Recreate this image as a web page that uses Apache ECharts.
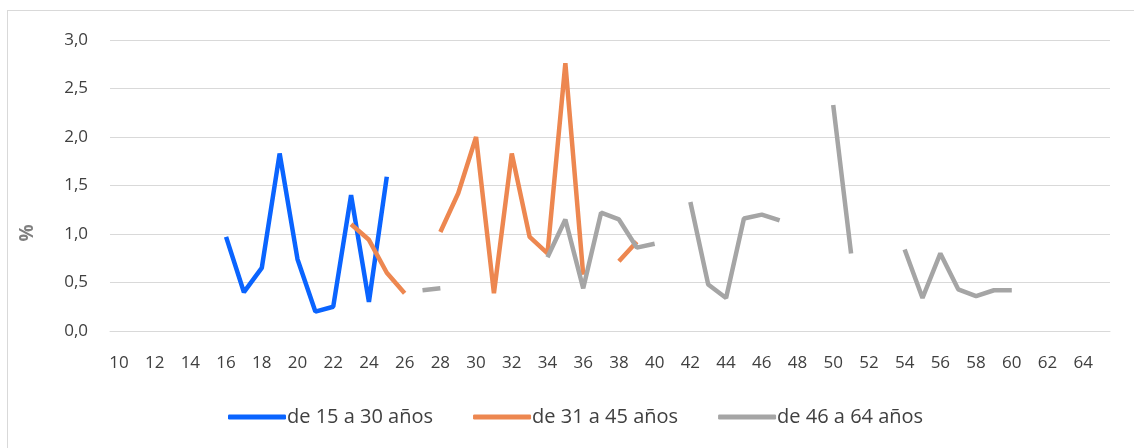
<!DOCTYPE html>
<html>
<head>
<meta charset="utf-8">
<script src="https://cdn.jsdelivr.net/npm/echarts@6/dist/echarts.min.js"></script>
<style>
  html, body { margin: 0; padding: 0; background: #fff; }
  #frame { position: absolute; left: 7px; top: 10px; width: 1140px; height: 450px; border: 1px solid #d9d9d9; box-sizing: border-box; }
  #chart { position: absolute; left: 0; top: 0; width: 1134px; height: 448px; }
</style>
</head>
<body>
<div id="frame"></div>
<div id="chart"></div>
<script>
// edades 10..65
const ages = [];
for (let a = 10; a <= 65; a++) ages.push(String(a));

const seriesNames = ['de 15 a 30 años', 'de 31 a 45 años', 'de 46 a 64 años'];

// valores por edad (null = sin dato)
const joven = {
  16: 0.97, 17: 0.40, 18: 0.65, 19: 1.83, 20: 0.74, 21: 0.20,
  22: 0.25, 23: 1.40, 24: 0.30, 25: 1.59
};
const medio = {
  23: 1.10, 24: 0.94, 25: 0.60, 26: 0.39, 28: 1.02, 29: 1.42,
  30: 2.00, 31: 0.39, 32: 1.83, 33: 0.97, 34: 0.80, 35: 2.76,
  36: 0.58, 38: 0.72, 39: 0.92
};
const mayor = {
  27: 0.42, 28: 0.44, 34: 0.76, 35: 1.15, 36: 0.44, 37: 1.22,
  38: 1.15, 39: 0.86, 40: 0.90, 42: 1.33, 43: 0.48, 44: 0.34,
  45: 1.16, 46: 1.20, 47: 1.14, 50: 2.33, 51: 0.80, 54: 0.84,
  55: 0.34, 56: 0.80, 57: 0.43, 58: 0.36, 59: 0.42, 60: 0.42
};

const colors = ['#0a64ff', '#ed8750', '#a5a5a5'];
const font = 'Open Sans';

function toSeries(obj) {
  return ages.map(a => (obj[a] !== undefined ? obj[a] : '-'));
}

const chart = echarts.init(document.getElementById('chart'));

const option = {
  animation: false,
  color: colors,
  textStyle: { fontFamily: font },
  grid: { left: 110, right: 24, top: 40, bottom: 117 },
  legend: {
    left: 223,
    top: 402,
    icon: 'roundRect',
    itemWidth: 58,
    itemHeight: 5,
    itemGap: 40,
    textStyle: { fontSize: 20, color: '#404040', fontFamily: font, padding: [0, 0, 0, -4] },
    data: seriesNames
  },
  graphic: [{
    type: 'text',
    x: 28,
    y: 233,
    rotation: Math.PI / 2,
    style: {
      text: '%',
      fill: '#7f7f7f',
      font: 'bold 19px ' + font,
      align: 'center',
      verticalAlign: 'middle'
    }
  }],
  xAxis: {
    type: 'category',
    data: ages,
    boundaryGap: true,
    axisLine: { lineStyle: { color: '#d9d9d9', width: 1 } },
    axisTick: { show: false },
    axisLabel: { interval: 1, color: '#404040', fontSize: 17, margin: 24 }
  },
  yAxis: {
    type: 'value',
    min: 0,
    max: 3,
    interval: 0.5,
    axisLine: { show: false },
    axisTick: { show: false },
    splitLine: { lineStyle: { color: '#d9d9d9', width: 1 } },
    axisLabel: {
      color: '#404040',
      fontSize: 17,
      margin: 22,
      formatter: v => v.toFixed(1).replace('.', ',')
    }
  },
  series: [
    { name: seriesNames[0], type: 'line', data: toSeries(joven), showSymbol: false, connectNulls: false, lineStyle: { width: 4.5 } },
    { name: seriesNames[1], type: 'line', data: toSeries(medio), showSymbol: false, connectNulls: false, lineStyle: { width: 4.5 } },
    { name: seriesNames[2], type: 'line', data: toSeries(mayor), showSymbol: false, connectNulls: false, lineStyle: { width: 4.5 } }
  ]
};

chart.setOption(option);
</script>
</body>
</html>
